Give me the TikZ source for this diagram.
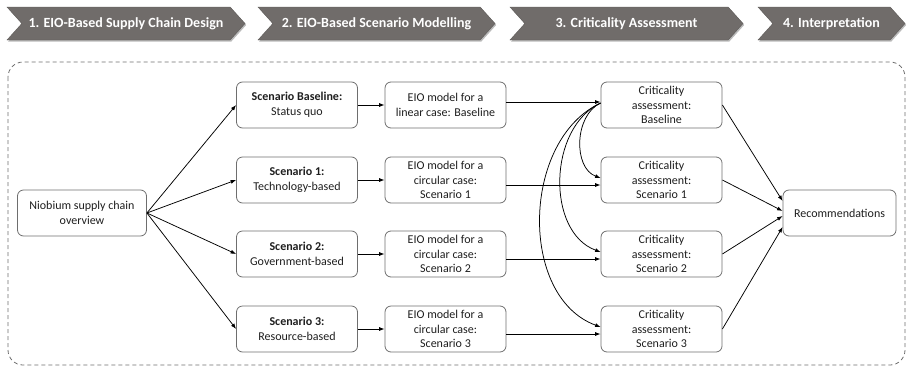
\documentclass[tikz,border=0pt]{standalone}
\usepackage{fontspec}
\setmainfont{Carlito}
\usetikzlibrary{shapes.symbols,shadows,arrows.meta}
\definecolor{phasegray}{RGB}{112,108,106}
\definecolor{boxgray}{RGB}{110,110,110}
\definecolor{textgray}{RGB}{30,30,30}

\begin{document}
\begin{tikzpicture}[x=1pt,y=1pt,
	box/.style={draw=boxgray, line width=0.8pt, rounded corners=6pt, minimum width=121pt, minimum height=46pt,
		align=center, text=textgray, inner sep=2pt, font=\fontsize{12}{14.5}\selectfont},
	phase/.style={signal, signal from=west, signal to=east, signal pointer angle=96,
		fill=phasegray, draw=phasegray!85!black, text=white, minimum height=33pt, inner sep=0pt,
		font=\fontsize{14}{16}\selectfont\bfseries,
		drop shadow={shadow xshift=1.2pt, shadow yshift=-1.5pt, fill=black!60, opacity=.45}},
	link/.style={-{Latex[length=5.5pt,width=4pt]}, line width=0.75pt}]
		\useasboundingbox (0,0) rectangle (909,-367);
		%Phases along the top
		\node[phase, minimum width=238pt] (ph1) at (126,-23.5) {1. EIO-Based Supply Chain Design};
		\node[phase, minimum width=237pt] (ph2) at (376.5,-23.5) {2. EIO-Based Scenario Modelling};
		\node[phase, minimum width=233pt] (ph3) at (626.5,-23.5) {3. Criticality Assessment};
		\node[phase, minimum width=147pt] (ph4) at (831.5,-23.5) {4. Interpretation};
		\draw[boxgray, line width=0.8pt, dash pattern=on 4pt off 3pt, rounded corners=15pt] (8,-62) rectangle (905,-365);
		%Boxes
		\node[box, minimum width=129pt] (nio) at (82,-213) {Niobium supply chain\\overview};
		\node[box] (scB) at (297,-105) {\textbf{Scenario Baseline:}\\Status quo};
		\node[box] (eioB) at (445.5,-105) {EIO model for a\\linear case: Baseline};
		\node[box] (critB) at (661.5,-105) {Criticality\\assessment:\\Baseline};
		\foreach \i/\y/\kind in {1/180/Technology, 2/254/Government, 3/329/Resource} {
			\node[box] (sc\i) at (297,-\y) {\textbf{Scenario \i:}\\\kind-based};
			\node[box] (eio\i) at (445.5,-\y) {EIO model for a\\circular case:\\Scenario \i};
			\node[box] (crit\i) at (661.5,-\y) {Criticality\\assessment:\\Scenario \i};
		}
		\node[box, minimum width=113pt] (rec) at (839.5,-213) {Recommendations};
		%Arrows
		\draw[link] (scB) -- (eioB);
		\draw[link] ([yshift=3pt]eioB.east) -- ([yshift=3pt]critB.west);
		\draw[link] (critB.east) -- ([yshift=12pt]rec.west);
		\foreach \i/\dy in {1/2, 2/-3, 3/-14} {
			\draw[link] (sc\i) -- (eio\i);
			\draw[link] ([yshift=-5pt]eio\i.east) -- ([yshift=-5pt]crit\i.west);
			\draw[link] ([yshift=2pt]critB.west) to[out=205, in=160] ([yshift=2pt]crit\i.west);
			\draw[link] (crit\i.east) -- ([yshift=\dy pt]rec.west);
		}
		\foreach \s in {scB,sc1,sc2,sc3}
			\draw[link] (nio.east) -- (\s.west);
\end{tikzpicture}
\end{document}
